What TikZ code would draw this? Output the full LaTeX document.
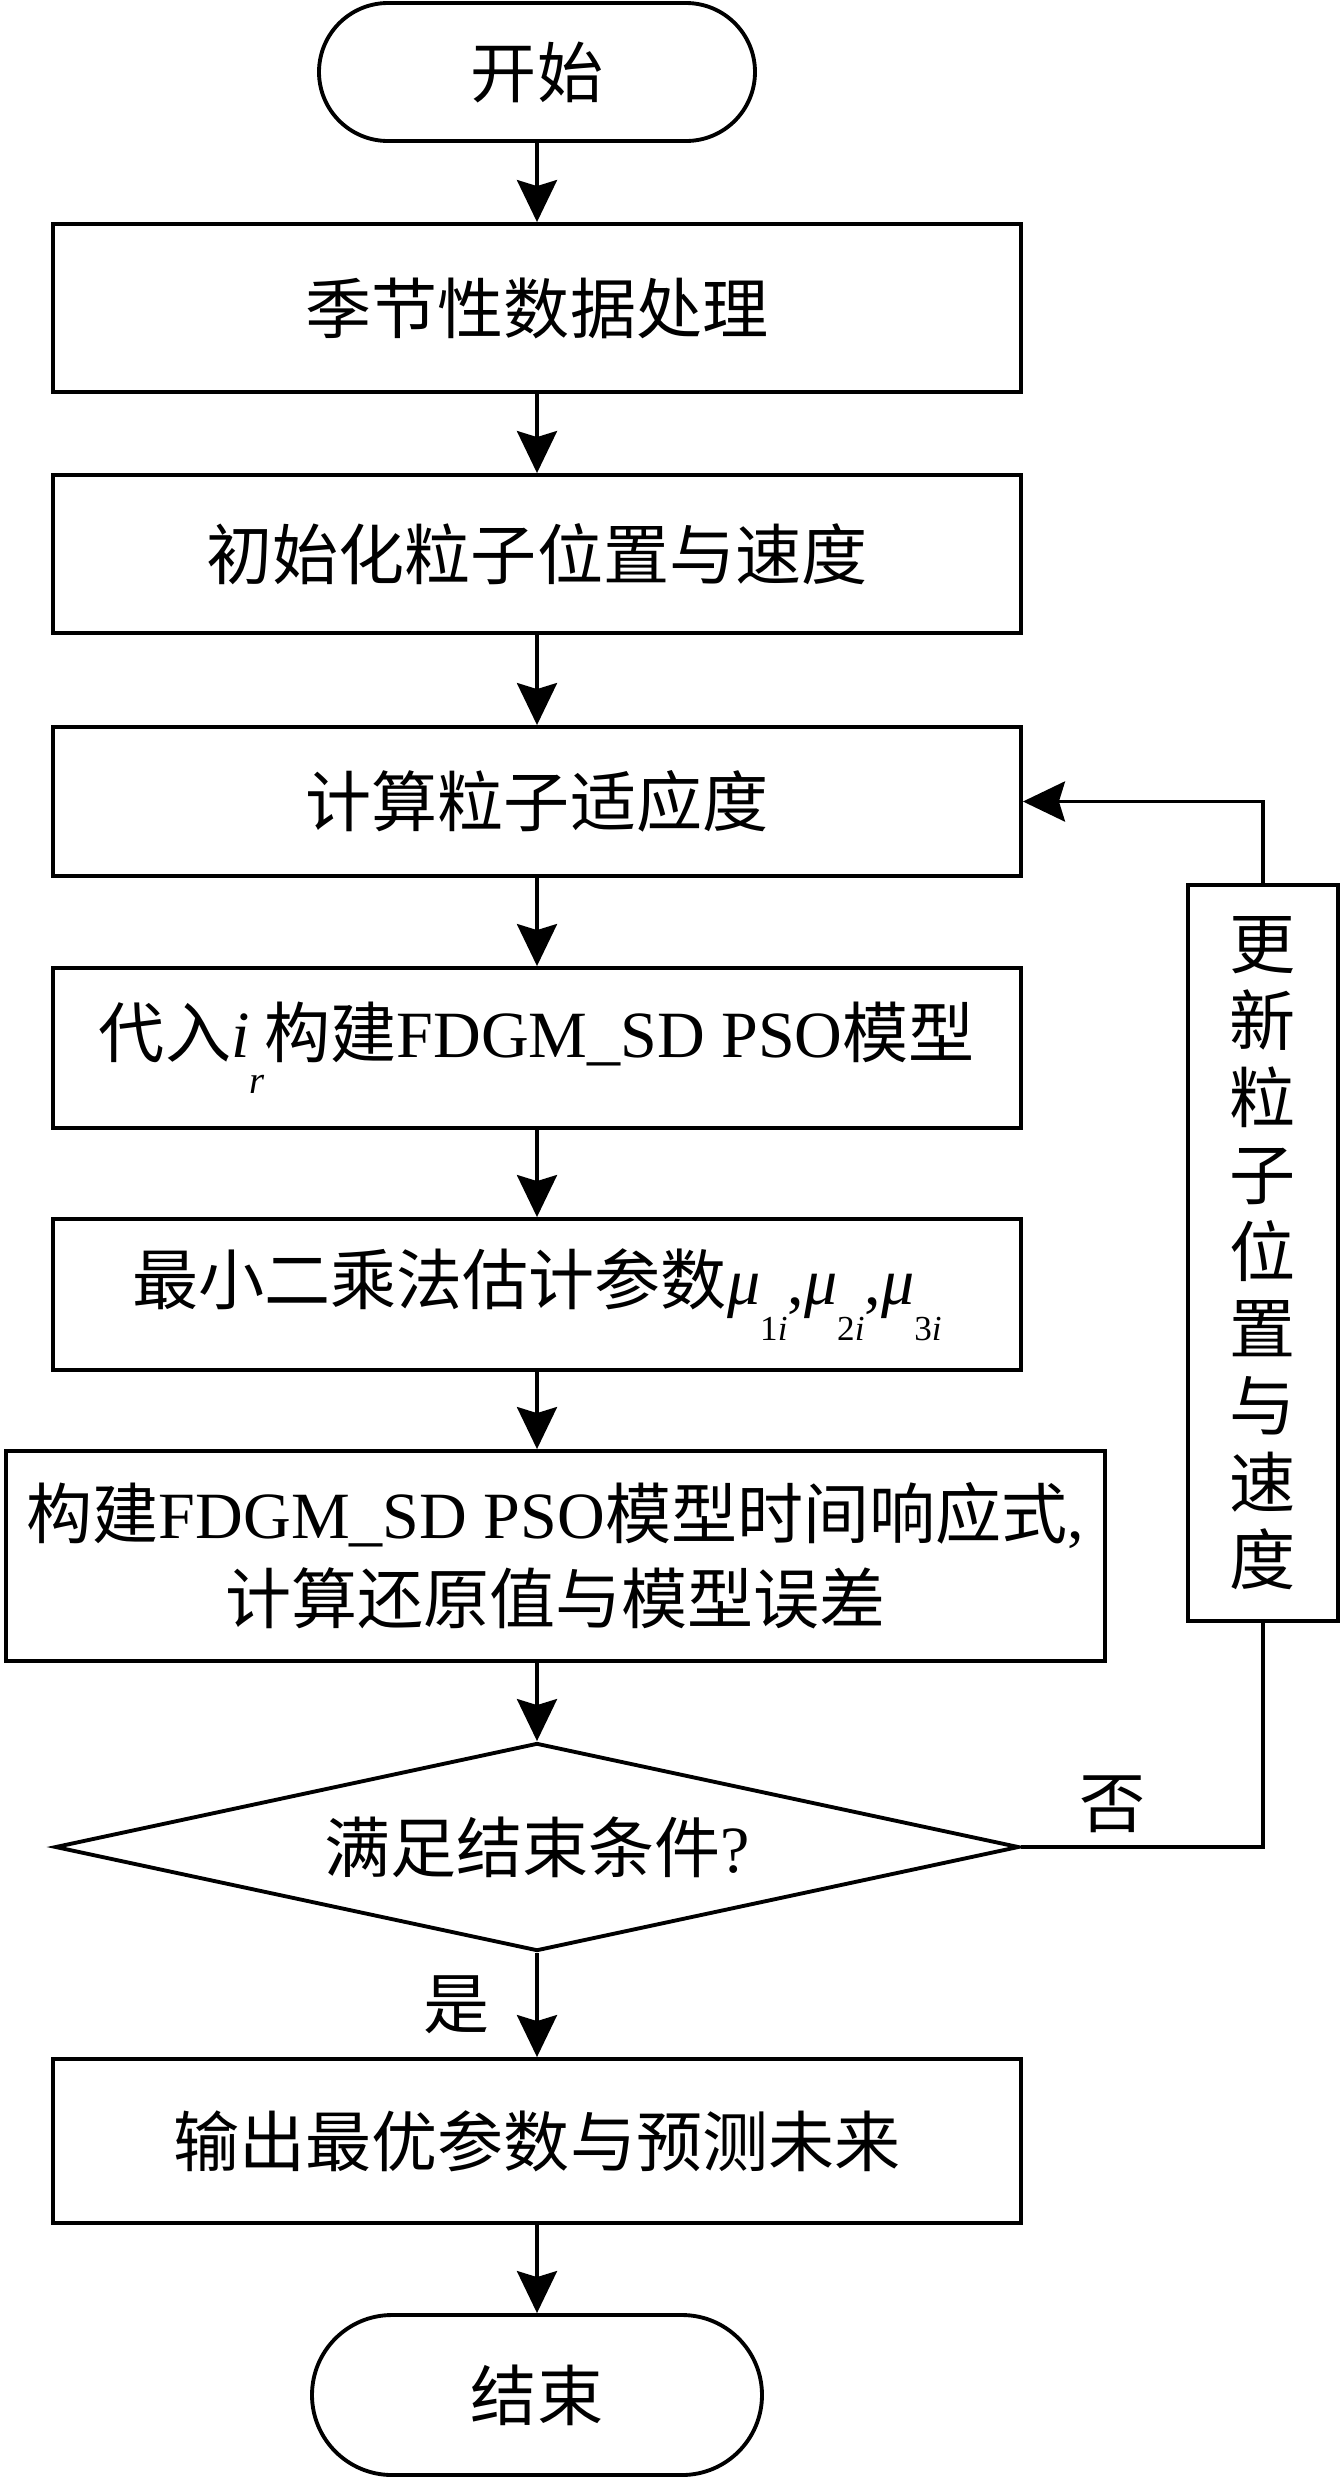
\documentclass[tikz,border=0pt]{standalone}
\usepackage{fontspec}
\setmainfont{Noto Sans CJK SC}
\newfontfamily\lat{Liberation Serif}
\usetikzlibrary{shapes.geometric,arrows.meta}
\newlength{\boxwidth}
\setlength{\boxwidth}{9.68cm}
\newcommand{\lowsub}[2][10pt]{\raisebox{-0.55em}{\fontsize{#1}{#1}\selectfont\lat #2}}
\tikzset{
    procbox/.style={draw, line width=1.1pt, minimum width=\boxwidth, inner sep=0pt, align=center},
    termbox/.style={draw, line width=1.1pt, inner sep=0pt},
    decbox/.style={draw, line width=1.1pt, diamond, aspect=4.6, inner sep=0pt},
    arr/.style={line width=1.1pt, -{Stealth[length=0.42cm,width=0.4cm,inset=0.06cm]}},
    plain/.style={line width=1.1pt}
}

\begin{document}
\begin{tikzpicture}[font=\fontsize{18.8pt}{22pt}\selectfont]
    \useasboundingbox (0,0) rectangle (13.43,-24.82);

    \node[termbox, rounded corners=0.69cm, minimum width=4.36cm, minimum height=1.38cm] (Start) at (5.37,-0.72) {开始};
    \node[procbox, minimum height=1.68cm] (SeasonData) at (5.37,-3.08) {季节性数据处理};
    \node[procbox, minimum height=1.58cm] (InitSwarm) at (5.37,-5.54) {初始化粒子位置与速度};
    \node[procbox, minimum height=1.49cm] (Fitness) at (5.37,-8.015) {计算粒子适应度};
    \node[procbox, minimum height=1.60cm] (BuildModel) at (5.37,-10.48)
        {代入{\lat\itshape i}\lowsub[11pt]{\itshape r}构建{\lat FDGM\_SD PSO}模型};
    \node[procbox, minimum height=1.51cm] (LeastSq) at (5.37,-12.945)
        {最小二乘法估计参数{\lat\itshape μ}\lowsub{1\itshape i}{\lat ,}{\lat\itshape μ}\lowsub{2\itshape i}{\lat ,}{\lat\itshape μ}\lowsub{3\itshape i}};
    \node[procbox, minimum width=10.99cm, minimum height=2.10cm, font=\fontsize{18.8pt}{24.2pt}\selectfont] (Response) at (5.555,-15.56)
        {构建{\lat FDGM\_SD PSO}模型时间响应式{\lat ,}\\计算还原值与模型误差};
    \node[decbox, minimum width=9.64cm, minimum height=2.08cm] (Check) at (5.37,-18.47) {满足结束条件{\lat ?}};
    \node[procbox, minimum height=1.64cm] (Output) at (5.37,-21.41) {输出最优参数与预测未来};
    \node[termbox, rounded corners=0.8cm, minimum width=4.50cm, minimum height=1.60cm] (Stop) at (5.37,-23.95) {结束};
    \node[procbox, minimum width=1.50cm, minimum height=7.36cm, font=\fontsize{18.8pt}{21.9pt}\selectfont] (Update) at (12.63,-12.53)
        {更\\新\\粒\\子\\位\\置\\与\\速\\度};

    \draw[arr] (Start) -- (SeasonData);
    \draw[arr] (SeasonData) -- (InitSwarm);
    \draw[arr] (InitSwarm) -- (Fitness);
    \draw[arr] (Fitness) -- (BuildModel);
    \draw[arr] (BuildModel) -- (LeastSq);
    \draw[arr] (LeastSq) -- (LeastSq |- Response.north);
    \draw[arr] (Response.south -| Check) -- (Check);
    \draw[arr] (Check) -- node[left=0.45cm, inner sep=0pt] {是} (Output);
    \draw[arr] (Output) -- (Stop);
    \draw[plain] (Check) -| node[pos=0.19, above=0.12cm, inner sep=0pt] {否} (Update);
    \draw[arr] (Update) |- (Fitness);
\end{tikzpicture}
\end{document}
